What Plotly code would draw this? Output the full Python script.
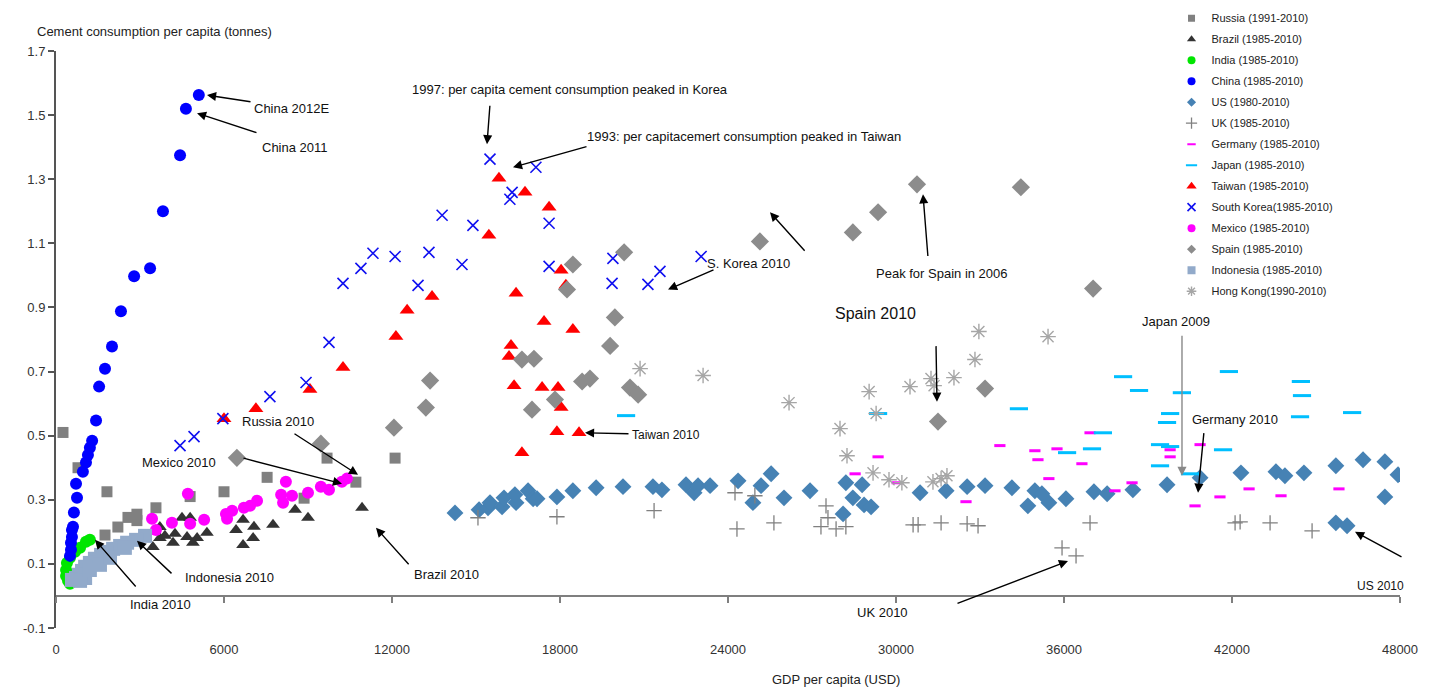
import plotly.graph_objects as go

# ---------------- data (GDP per capita USD, cement consumption per capita tonnes) -------------
russia_gdp = [250, 786, 1820, 1750, 2210, 2570, 2890, 2890, 3570, 4790, 6000, 7540, 8860, 9680, 12110, 10710]
russia_cons = [0.51, 0.40, 0.325, 0.19, 0.215, 0.245, 0.255, 0.235, 0.275, 0.31, 0.325, 0.37, 0.305, 0.43, 0.43, 0.355]

brazil_gdp = [3460, 3710, 3710, 3890, 4180, 4250, 4500, 4680, 4790, 4890, 5040, 5390, 6430, 6680, 6680, 7040, 7070, 7750, 8540, 9000, 10930]
brazil_cons = [0.153, 0.181, 0.215, 0.1875, 0.166, 0.194, 0.244, 0.184, 0.244, 0.166, 0.181, 0.197, 0.206, 0.2375, 0.159, 0.181, 0.216, 0.222, 0.269, 0.244, 0.275]

india_gdp = [1210, 1070, 860, 680, 500, 390, 360, 360, 430, 500]
india_cons = [0.175, 0.169, 0.15, 0.1375, 0.119, 0.103, 0.081, 0.0625, 0.047, 0.038]

china_gdp = [500, 535, 535, 570, 570, 607, 640, 715, 750, 960, 1070, 1140, 1210, 1290, 1430, 1540,
             1750, 2000, 2320, 2790, 3360, 3820, 4430, 4640, 5100]
china_cons = [0.125, 0.144, 0.166, 0.184, 0.206, 0.216, 0.26, 0.35, 0.306, 0.3875, 0.416, 0.44, 0.4625, 0.484,
              0.547, 0.653, 0.709, 0.778, 0.888, 0.997, 1.022, 1.20, 1.375, 1.52, 1.5625]

us_gdp = [14250, 15110, 15430, 15500, 15930, 16000, 16430, 16390, 16860, 17040, 17180, 17890, 18460, 19290,
          20250, 21320, 21640, 22500, 22790, 22930, 23360, 24360, 24890, 25180, 25540, 26000, 26930, 28110,
          28210, 28460, 28790, 28860, 29110, 30860, 31790, 32540, 33180, 34140, 34710, 34960, 35210, 35460,
          36070, 37070, 37540, 38460, 39680, 40860, 42320, 43570, 43890, 44570, 45710, 46680, 47460, 47930,
          47460, 45710, 46110]
us_cons = [0.259, 0.269, 0.275, 0.291, 0.278, 0.306, 0.291, 0.316, 0.328, 0.303, 0.303, 0.309, 0.328, 0.3375,
           0.341, 0.341, 0.331, 0.347, 0.322, 0.344, 0.344, 0.359, 0.291, 0.344, 0.381, 0.306, 0.328, 0.256,
           0.353, 0.306, 0.347, 0.284, 0.278, 0.322, 0.328, 0.341, 0.344, 0.3375, 0.281, 0.328, 0.319, 0.291,
           0.303, 0.325, 0.319, 0.331, 0.347, 0.369, 0.384, 0.3875, 0.375, 0.384, 0.406, 0.425, 0.419, 0.378,
           0.309, 0.228, 0.219]

uk_gdp = [15070, 17890, 21360, 24250, 24960, 24320, 25640, 27500, 27570, 27320, 27860, 28210, 30610, 30790,
          31610, 32540, 32930, 36930, 35930, 36430, 42110, 42290, 43360, 44860]
uk_cons = [0.244, 0.247, 0.266, 0.322, 0.3125, 0.209, 0.228, 0.281, 0.244, 0.216, 0.209, 0.216, 0.222, 0.222,
           0.228, 0.225, 0.219, 0.228, 0.15, 0.125, 0.228, 0.231, 0.228, 0.203]

germany_gdp = [28540, 29360, 30040, 32500, 33710, 34960, 35070, 35750, 35460, 36640, 36930, 37820, 38430,
               39790, 39790, 40860, 40680, 41570, 42610, 43750, 45820]
germany_cons = [0.381, 0.434, 0.353, 0.294, 0.469, 0.453, 0.425, 0.459, 0.366, 0.4125, 0.509, 0.328, 0.353,
                0.456, 0.434, 0.472, 0.281, 0.309, 0.334, 0.3125, 0.334]

japan_gdp = [20360, 29360, 34390, 37390, 36110, 37000, 38110, 38680, 39430, 39790, 39430, 40500, 39790, 39680,
             40210, 41680, 41890, 44460, 44500, 44430, 46290]
japan_cons = [0.5625, 0.569, 0.584, 0.509, 0.447, 0.459, 0.684, 0.641, 0.472, 0.466, 0.406, 0.381, 0.569, 0.541,
              0.634, 0.456, 0.70, 0.669, 0.625, 0.559, 0.572]

taiwan_gdp = [6000, 7140, 9070, 10250, 12140, 12540, 13430, 15460, 15820, 16750, 17610, 18040, 16430, 17430,
              18460, 16250, 16180, 16360, 17360, 17930, 18040, 17890, 18680, 16640, 18210]
taiwan_cons = [0.553, 0.584, 0.644, 0.7125, 0.809, 0.891, 0.934, 1.125, 1.303, 1.259, 1.2125, 1.016, 0.944,
               0.856, 0.831, 0.781, 0.747, 0.656, 0.65, 0.65, 0.5875, 0.5125, 0.509, 0.447, 0.969]

korea_gdp = [4430, 4930, 5960, 7640, 8930, 9750, 10250, 10890, 11320, 12110, 12930, 13320, 13790, 14500, 14890,
             15500, 17140, 16290, 16210, 17610, 17610, 19890, 21570, 19860, 21140, 23040]
korea_cons = [0.469, 0.497, 0.553, 0.622, 0.666, 0.791, 0.975, 1.022, 1.069, 1.059, 0.969, 1.072, 1.1875, 1.034,
              1.156, 1.3625, 1.3375, 1.259, 1.2375, 1.1625, 1.028, 1.053, 1.0125, 0.975, 0.972, 1.059]

mexico_gdp = [3430, 3570, 4140, 4710, 4790, 5290, 6070, 6110, 6290, 6710, 6930, 7180, 8210, 8040, 8110, 8430,
              9000, 9460, 9750, 10210, 10390]
mexico_cons = [0.241, 0.206, 0.228, 0.319, 0.225, 0.2375, 0.256, 0.241, 0.266, 0.275, 0.281, 0.297, 0.356, 0.316,
               0.291, 0.3125, 0.322, 0.341, 0.331, 0.356, 0.366]

spain_gdp = [6460, 9460, 12070, 13210, 13360, 17000, 17820, 16640, 17070, 18790, 19070, 20500, 20790, 19790,
             19960, 18250, 18460, 20290, 25140, 28460, 29360, 30750, 34460, 37040, 33180, 31500]
spain_cons = [0.431, 0.475, 0.525, 0.5875, 0.672, 0.581, 0.6125, 0.7375, 0.74, 0.669, 0.678, 0.65, 0.628, 0.78,
              0.869, 0.956, 1.034, 1.072, 1.106, 1.134, 1.197, 1.284, 1.275, 0.959, 0.647, 0.544]

indonesia_gdp = [3180, 2860, 2540, 2290, 2040, 1820, 1610, 1390, 1210, 1040, 930, 820, 715, 570, 1040, 860,
                 1210, 1570, 1930, 2460]
indonesia_cons = [0.1875, 0.175, 0.166, 0.156, 0.147, 0.1375, 0.128, 0.116, 0.103, 0.091, 0.078, 0.066, 0.056,
                  0.05, 0.056, 0.047, 0.081, 0.097, 0.119, 0.15]

hk_gdp = [20860, 23110, 26180, 29040, 29290, 28000, 28250, 29180, 29750, 30210, 30500, 31250, 31360, 32070,
          32820, 32960, 35430, 31320, 31610, 31820]
hk_cons = [0.709, 0.6875, 0.603, 0.6375, 0.569, 0.522, 0.4375, 0.384, 0.3625, 0.353, 0.653, 0.678, 0.656, 0.681,
           0.7375, 0.825, 0.809, 0.356, 0.366, 0.375]

x_ticks = [0, 6000, 12000, 18000, 24000, 30000, 36000, 42000, 48000]
y_ticks = [-0.1, 0.1, 0.3, 0.5, 0.7, 0.9, 1.1, 1.3, 1.5, 1.7]

FONT = "Liberation Sans, Arial, sans-serif"

# name, x, y, symbol, color, size, line width, legend size
series = [
    ("Russia (1991-2010)", russia_gdp, russia_cons, "square", "#808080", 11, 0, 7),
    ("Brazil (1985-2010)", brazil_gdp, brazil_cons, "triangle-up", "#333333", 12, 0, 8),
    ("India (1985-2010)", india_gdp, india_cons, "circle", "#00E600", 12, 0, 8),
    ("China (1985-2010)", china_gdp, china_cons, "circle", "#0000FF", 12, 0, 8),
    ("US (1980-2010)", us_gdp, us_cons, "diamond", "#4682B4", 13, 0, 7),
    ("UK (1985-2010)", uk_gdp, uk_cons, "cross-thin-open", "#808080", 11, 1.3, 8),
    ("Germany (1985-2010)", germany_gdp, germany_cons, "line-ew-open", "#FF00FF", 8, 3, 6),
    ("Japan (1985-2010)", japan_gdp, japan_cons, "line-ew-open", "#00BFFF", 13, 3, 8),
    ("Taiwan (1985-2010)", taiwan_gdp, taiwan_cons, "triangle-up", "#FF0000", 13, 0, 9),
    ("South Korea(1985-2010)", korea_gdp, korea_cons, "x-thin-open", "#1010F0", 11, 1.6, 8),
    ("Mexico (1985-2010)", mexico_gdp, mexico_cons, "circle", "#FF00FF", 12, 0, 8),
    ("Spain (1985-2010)", spain_gdp, spain_cons, "diamond", "#8C8C8C", 14, 0, 7),
    ("Indonesia (1985-2010)", indonesia_gdp, indonesia_cons, "square", "#92AACA", 14, 0, 8),
    ("Hong Kong(1990-2010)", hk_gdp, hk_cons, "asterisk-open", "#A6A6A6", 13, 1.4, 8),
]

fig = go.Figure()
for name, xs, ys, sym, col, size, lw, lsize in series:
    fig.add_trace(go.Scatter(
        x=xs, y=ys, mode="markers", name=name, showlegend=False,
        marker=dict(symbol=sym, color=col, size=size, line=dict(width=lw, color=col)),
        hoverinfo="x+y+name"))
for name, xs, ys, sym, col, size, lw, lsize in series:
    fig.add_trace(go.Scatter(
        x=[None], y=[None], mode="markers", name=name, legendgroup=name,
        marker=dict(symbol=sym, color=col, size=lsize, line=dict(width=min(lw, 2), color=col))))

# helper axis carrying the tick marks on the y=0 line
fig.add_trace(go.Scatter(x=[], y=[], xaxis="x2", showlegend=False, hoverinfo="skip"))

# annotations: (text, text_x, text_y, font size, tail_x, tail_y, tip_x, tip_y, arrow color)
notes = [
    ("China 2012E", 7000, 1.522, 13, 7000, 1.541, 5393, 1.5625, "#000"),
    ("China 2011", 7286, 1.40, 13, 7214, 1.444, 5036, 1.506, "#000"),
    ("1997: per capita cement consumption peaked in Korea", 12643, 1.581, 13, 15500, 1.534, 15393, 1.409, "#000"),
    ("1993: per capitacemert consumption peaked in Taiwan", 18893, 1.434, 13, 19000, 1.403, 16321, 1.3375, "#000"),
    ("S. Korea 2010", 23179, 1.0375, 13, 23536, 1.019, 21857, 0.956, "#000"),
    ("", None, None, 13, 26786, 1.072, 25500, 1.197, "#000"),
    ("Peak for Spain in 2006", 29214, 1.006, 13, 31143, 1.056, 30964, 1.253, "#000"),
    ("Spain 2010", 27750, 0.881, 16, 31429, 0.784, 31464, 0.606, "#000"),
    ("Japan 2009", 38714, 0.856, 13, 40214, 0.816, 40214, 0.375, "#888888"),
    ("Germany 2010", 40500, 0.55, 13, 41000, 0.5125, 40786, 0.322, "#000"),
    ("Taiwan 2010", 20500, 0.503, 12, 20500, 0.506, 18893, 0.509, "#000"),
    ("US 2010", 46393, 0.031, 12, 48107, 0.119, 46393, 0.20, "#000"),
    ("UK 2010", 28536, -0.053, 13, 32143, -0.025, 36143, 0.109, "#000"),
    ("Brazil 2010", 12714, 0.066, 13, 12643, 0.094, 11429, 0.2125, "#000"),
    ("Russia 2010", 6571, 0.544, 13, 8464, 0.509, 10786, 0.378, "#000"),
    ("Mexico 2010", 3000, 0.416, 13, 6643, 0.431, 10214, 0.35, "#000"),
    ("Indonesia 2010", 4536, 0.056, 13, 4179, 0.066, 2893, 0.172, "#000"),
    ("India 2010", 2571, -0.028, 13, 2893, 0.025, 1393, 0.175, "#000"),
]
annotations = []
for text, tx, ty, fs, ax, ay, hx, hy, acol in notes:
    annotations.append(dict(x=hx, y=hy, ax=ax, ay=ay, xref="x", yref="y", axref="x", ayref="y",
                            text="", showarrow=True, arrowhead=2, arrowsize=1.3, arrowwidth=1.4,
                            arrowcolor=acol))
    if text:
        annotations.append(dict(x=tx, y=ty, xref="x", yref="y", text=text, showarrow=False,
                                xanchor="left", yanchor="middle",
                                font=dict(family=FONT, size=fs, color="#111111")))

annotations.append(dict(x=-0.0156, y=1.0345, xref="paper", yref="paper",
                        text="Cement consumption per capita (tonnes)", showarrow=False,
                        xanchor="left", yanchor="middle", font=dict(family=FONT, size=13, color="#222")))
annotations.append(dict(x=0.5804, y=-0.0901, xref="paper", yref="paper",
                        text="GDP per capita (USD)", showarrow=False,
                        xanchor="center", yanchor="middle", font=dict(family=FONT, size=13, color="#222")))

fig.update_layout(
    width=1432, height=688,
    margin=dict(l=56, r=32, t=51, b=60, autoexpand=False),
    paper_bgcolor="white", plot_bgcolor="white",
    font=dict(family=FONT, size=13, color="#333"),
    xaxis=dict(range=[0, 48000], tickvals=x_ticks, ticktext=[str(v) for v in x_ticks],
               showgrid=False, zeroline=False, showline=False, automargin=False,
               ticks="outside", ticklen=9, tickcolor="rgba(0,0,0,0)",
               tickfont=dict(family=FONT, size=13, color="#333")),
    xaxis2=dict(range=[0, 48000], overlaying="x", anchor="free", position=0.1 / 1.8,
                tickvals=x_ticks, showticklabels=False, showgrid=False, zeroline=False,
                showline=True, linecolor="#7F7F7F", linewidth=2,
                ticks="outside", ticklen=6, tickwidth=2, tickcolor="#7F7F7F"),
    yaxis=dict(range=[-0.1, 1.7], tickvals=y_ticks, ticktext=[f"{v:.1f}" for v in y_ticks],
               showgrid=False, zeroline=False, showline=True, linecolor="#555555", linewidth=2,
               automargin=False,
               ticks="outside", ticklen=6, tickwidth=2, tickcolor="#555555",
               tickfont=dict(family=FONT, size=13, color="#333")),
    legend=dict(x=0.830, y=1.082, xanchor="left", yanchor="top",
                font=dict(family=FONT, size=11, color="#222"),
                bgcolor="rgba(255,255,255,0)", tracegroupgap=2, itemwidth=30),
    annotations=annotations,
    showlegend=True,
)

fig.write_html("out.html", config={"displayModeBar": False},
               post_script="document.body.style.margin='0px';")
